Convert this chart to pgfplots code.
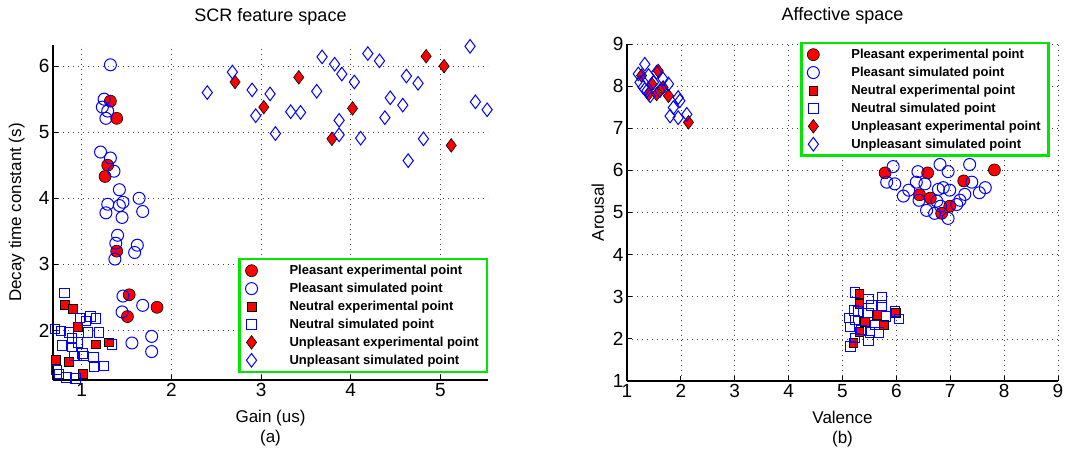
\documentclass[border=0pt]{standalone}
\usepackage{pgfplots}
\pgfplotsset{compat=1.18}
\usepackage{fontspec}
\setmainfont{Liberation Sans}
\definecolor{lgreen}{RGB}{0,230,0}
\definecolor{mblue}{RGB}{0,0,255}

\pgfplotsset{
 pexp/.style={color=black, only marks, mark=*, mark size=6pt, mark options={solid, fill=red, draw=black, line width=0.6pt}},
 psim/.style={color=mblue, only marks, mark=o, mark size=6pt, mark options={solid, draw=mblue, line width=1pt}},
 nexp/.style={color=black, only marks, mark=square*, mark size=4.4pt, mark options={solid, fill=red, draw=black, line width=0.6pt}},
 nsim/.style={color=mblue, only marks, mark=square, mark size=4.7pt, mark options={solid, draw=mblue, line width=1pt}},
 uexp/.style={color=black, only marks, mark=diamond*, mark size=6.8pt, mark options={solid, fill=red, draw=black, line width=0.6pt}},
 usim/.style={color=mblue, only marks, mark=diamond, mark size=6.8pt, mark options={solid, draw=mblue, line width=1pt}},
 myax/.style={
  scale only axis, axis x line*=bottom, axis y line*=left,
  axis line style={-, line width=2pt, black},
  tick align=inside, major tick length=5pt, tick style={black, line width=0.8pt},
  grid=major, grid style={black!75, line width=0.7pt, dash pattern=on 0.8pt off 4.2pt},
  clip=false,
  /pgf/number format/assume math mode=true,
  tick label style={font=\fontsize{19}{21}\selectfont},
  label style={font=\fontsize{17}{20}\selectfont},
  xlabel style={align=center, at={(axis description cs:0.5,0)}, anchor=north, yshift=-27pt},
  title style={font=\fontsize{18}{20}\selectfont, yshift=10pt},
  legend cell align=left,
  legend image code/.code={\draw[mark repeat=2,mark phase=2] plot coordinates {(0pt,0pt)(6pt,0pt)(12pt,0pt)};},
  legend style={draw=lgreen, line width=2.4pt, fill=white, font=\bfseries\fontsize{13}{15}\selectfont,
    row sep=3pt, inner xsep=6pt, inner ysep=4pt,
    /tikz/every odd column/.append style={column sep=30pt}},
 },
}

\begin{document}
\begin{tikzpicture}[x=1pt,y=1pt]
\path[use as bounding box] (0,0) rectangle (1081,452);

% ---------------- Left: SCR feature space
\begin{axis}[myax,
  at={(53pt,72pt)}, anchor=south west,
  width=435pt, height=335pt,
  xmin=0.68, xmax=5.53, ymin=1.25, ymax=6.32,
  xtick={1,2,3,4,5}, ytick={2,3,4,5,6},
  title={SCR feature space},
  xlabel={Gain (us)\\(a)},
  ylabel={Decay time constant (s)},
  ylabel style={at={(axis description cs:-0.057,0.5)}},
  legend style={at={(1,0.021)}, anchor=south east},
]
\addplot[pexp] coordinates {(1.32,5.47)(1.39,5.21)(1.29,4.50)(1.26,4.33)(1.39,3.20)(1.53,2.54)(1.84,2.35)(1.51,2.21)};
\addplot[psim] coordinates {(1.32,6.02)(1.25,5.50)(1.23,5.38)(1.29,5.32)(1.27,5.21)(1.21,4.70)(1.32,4.61)(1.36,4.41)(1.42,4.13)(1.29,3.91)(1.46,3.94)(1.64,4.00)(1.27,3.78)(1.42,3.89)(1.68,3.80)(1.45,3.71)(1.40,3.44)(1.38,3.32)(1.62,3.29)(1.59,3.18)(1.37,3.08)(1.46,2.52)(1.68,2.38)(1.45,2.28)(1.78,1.91)(1.56,1.81)(1.78,1.68)};
\addplot[nexp] coordinates {(0.81,2.39)(0.90,2.33)(0.96,2.05)(1.16,1.79)(1.30,1.82)(0.71,1.55)(0.86,1.52)(1.01,1.34)};
\addplot[nsim] coordinates {(0.81,2.57)(0.70,2.02)(0.77,1.99)(0.86,1.97)(0.89,1.88)(0.96,1.82)(0.78,1.77)(0.89,1.75)(1.01,1.65)(1.02,1.61)(1.13,1.60)(1.07,1.97)(1.19,1.97)(1.10,2.21)(1.16,2.18)(0.72,1.40)(1.14,1.45)(1.25,1.46)(0.83,1.29)(0.93,1.27)(1.34,1.79)(0.92,1.61)(0.75,1.34)(0.98,2.19)(1.05,2.14)};
\addplot[uexp] coordinates {(2.71,5.76)(3.03,5.38)(3.42,5.83)(4.02,5.36)(3.79,4.90)(4.84,6.15)(5.04,6.00)(5.12,4.80)};
\addplot[usim] coordinates {(2.40,5.60)(2.68,5.91)(2.90,5.64)(3.10,5.58)(2.94,5.25)(3.16,4.98)(3.33,5.31)(3.44,5.30)(3.62,5.62)(3.68,6.14)(3.82,6.03)(3.90,5.88)(4.04,5.76)(3.87,5.18)(3.87,4.96)(4.11,4.91)(4.19,6.19)(4.32,6.08)(4.44,5.52)(4.38,5.22)(4.58,5.41)(4.62,5.85)(4.75,5.74)(4.81,4.90)(4.64,4.57)(5.33,6.30)(5.39,5.46)(5.52,5.34)};
\legend{Pleasant experimental point, Pleasant simulated point, Neutral experimental point, Neutral simulated point, Unpleasant experimental point, Unpleasant simulated point}
\end{axis}

% ---------------- Right: Affective space
\begin{axis}[myax,
  at={(627pt,71pt)}, anchor=south west,
  width=431pt, height=337pt,
  xmin=1, xmax=9, ymin=1, ymax=9,
  xtick={1,...,9}, ytick={1,...,9},
  title={Affective space},
  xlabel={Valence\\(b)},
  ylabel={Arousal},
  ylabel style={at={(axis description cs:-0.045,0.5)}},
  legend style={at={(0.981,1.006)}, anchor=north east},
]
\addplot[pexp] coordinates {(5.79,5.94)(6.58,5.94)(7.25,5.75)(7.82,6.01)(6.43,5.42)(6.63,5.34)(6.99,5.15)(6.84,4.98)};
\addplot[psim] coordinates {(5.94,6.09)(5.82,5.72)(5.97,5.68)(6.40,5.97)(6.81,6.14)(6.96,5.97)(7.36,6.14)(6.37,5.72)(6.53,5.68)(6.23,5.53)(6.13,5.39)(6.42,5.29)(6.78,5.55)(6.87,5.59)(6.99,5.53)(7.27,5.43)(7.40,5.72)(7.65,5.59)(7.54,5.47)(7.18,5.29)(7.12,5.19)(6.82,5.15)(6.56,5.05)(6.71,4.98)(6.96,4.86)(6.75,5.27)};
\addplot[nexp] coordinates {(5.31,3.07)(5.31,2.83)(5.64,2.57)(5.42,2.41)(5.77,2.33)(5.99,2.61)(5.31,2.17)(5.20,1.90)};
\addplot[nsim] coordinates {(5.23,3.10)(5.48,2.95)(5.73,2.98)(5.73,2.79)(5.54,2.79)(5.29,2.65)(5.21,2.67)(5.12,2.49)(5.23,2.45)(5.14,2.28)(5.48,2.61)(5.60,2.33)(5.68,2.15)(5.51,2.15)(5.48,1.96)(5.23,2.02)(5.15,1.82)(5.81,2.53)(5.97,2.65)(6.05,2.47)(5.35,2.21)};
\addplot[uexp] coordinates {(1.58,8.36)(1.27,8.25)(1.40,7.81)(1.77,7.77)(1.55,7.81)(2.14,7.14)(1.67,7.97)(1.46,8.05)};
\addplot[usim] coordinates {(1.33,8.52)(1.21,8.29)(1.24,8.09)(1.67,8.17)(1.77,8.05)(1.49,8.09)(1.37,7.89)(1.61,7.89)(1.95,7.73)(1.86,7.49)(1.98,7.65)(1.80,7.29)(2.11,7.33)(1.95,7.25)(1.43,7.77)(1.30,7.97)(1.55,8.33)(1.40,8.25)};
\legend{Pleasant experimental point, Pleasant simulated point, Neutral experimental point, Neutral simulated point, Unpleasant experimental point, Unpleasant simulated point}
\end{axis}
\end{tikzpicture}
\end{document}
